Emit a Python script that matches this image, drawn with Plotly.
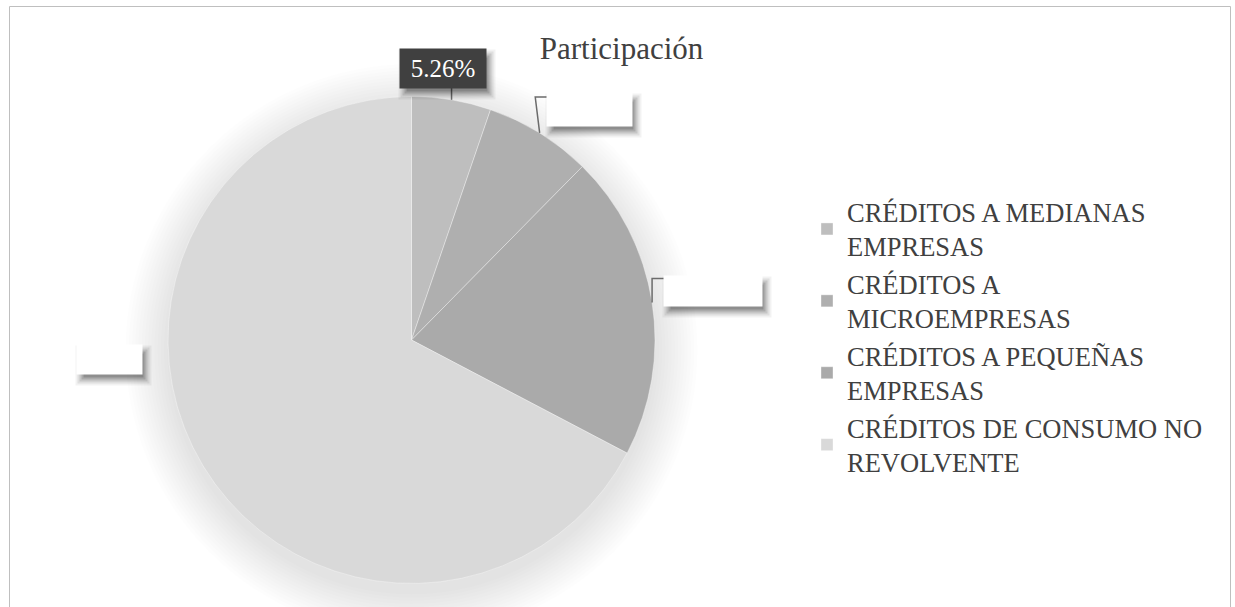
import math
import plotly.graph_objects as go

# ---- data ----
categories = [
    "CRÉDITOS A MEDIANAS<br>EMPRESAS",
    "CRÉDITOS A<br>MICROEMPRESAS",
    "CRÉDITOS A PEQUEÑAS<br>EMPRESAS",
    "CRÉDITOS DE CONSUMO NO<br>REVOLVENTE",
]
shares = [5.26, 7.12, 20.31, 67.31]
label_texts = ["5.26%", "7.12%", "20.31%", "67.31%"]
title_text = "Participación"

# ---- styles ----
colors = ["#bebebe", "#afafaf", "#aaaaaa", "#d9d9d9"]
W, H = 1235, 607
CX, CY, R = 411.5, 340.0, 243.5
TEXT = "#404040"
FONT = "'Liberation Serif', 'Times New Roman', Times, serif"

# per-label styling: box size, box-centre offset from slice edge point,
# leader bend offsets (relative to edge point), fill/font colour
label_style = [
    dict(w=86, h=39, off=(-8.6, -31.3), leader=[(0, -12)], bg="#404040", fc="#ffffff"),
    dict(w=85, h=33, off=(50, -23.4), leader=[(-4.4, -35.9), (7.6, -35.9)], bg="#ffffff", fc="#ffffff"),
    dict(w=98, h=30, off=(61, -11), leader=[(0, -24), (12, -24)], bg="#ffffff", fc="#ffffff"),
    dict(w=65, h=29, off=(-93.5, -106.5), leader=[], bg="#ffffff", fc="#ffffff"),
]


def px(x):
    return x / W


def py(y):
    return 1 - y / H


fig = go.Figure()
fig.add_trace(go.Pie(
    labels=categories,
    values=shares,
    sort=False,
    direction="clockwise",
    rotation=0,
    textinfo="none",
    marker=dict(colors=colors, line=dict(color="rgba(255,255,255,0.45)", width=0.8)),
    domain=dict(x=[px(CX - R), px(CX + R)], y=[py(CY + R), py(CY - R)]),
    hoverinfo="label+percent",
))

shapes = []
# chart border
shapes.append(dict(type="rect", xref="paper", yref="paper",
                   x0=px(9.5), x1=px(1230.5), y0=-0.1, y1=py(6.5),
                   line=dict(color="#bfbfbf", width=1), fillcolor="rgba(0,0,0,0)", layer="below"))
# soft pie shadow
for k in range(14):
    rr = R + 1 + k * 3.2
    shapes.append(dict(type="circle", xref="paper", yref="paper",
                       xsizemode="pixel", ysizemode="pixel",
                       xanchor=px(CX), yanchor=py(CY + 10),
                       x0=-rr, x1=rr, y0=-rr, y1=rr,
                       fillcolor="rgba(0,0,0,0.009)", line=dict(width=0), layer="below"))

annotations = []
total = sum(shares)
cum = 0.0
for val, txt, st in zip(shares, label_texts, label_style):
    mid = (cum + val / 2) / total * 2 * math.pi
    cum += val
    ex = CX + R * math.sin(mid)
    ey = CY - R * math.cos(mid)
    bx = ex + st["off"][0]
    by = ey + st["off"][1]
    # leader line
    if st["leader"]:
        pts = [(ex, ey)] + [(ex + dx, ey + dy) for dx, dy in st["leader"]]
        path = "M " + " L ".join(f"{px(a):.5f},{py(b):.5f}" for a, b in pts)
        shapes.append(dict(type="path", xref="paper", yref="paper", path=path,
                           line=dict(color="#6b6b6b", width=1.5)))
    # blurred box shadow
    for grow, alpha in [(10, 0.05), (6, 0.08), (2, 0.11), (-2, 0.14), (-6, 0.16)]:
        annotations.append(dict(xref="paper", yref="paper", x=px(bx + 4), y=py(by + 6),
                                xanchor="center", yanchor="middle", showarrow=False,
                                text=" ", width=st["w"] + grow, height=st["h"] + grow,
                                borderpad=0, bgcolor=f"rgba(0,0,0,{alpha})",
                                font=dict(size=10)))
    annotations.append(dict(xref="paper", yref="paper", x=px(bx), y=py(by),
                            xanchor="center", yanchor="middle", showarrow=False,
                            text=txt, width=st["w"], height=st["h"], borderpad=0,
                            bgcolor=st["bg"],
                            font=dict(family=FONT, size=25, color=st["fc"])))

fig.update_layout(
    width=W, height=H,
    margin=dict(l=0, r=0, t=0, b=0),
    paper_bgcolor="white",
    plot_bgcolor="white",
    title=dict(text=title_text, x=px(621.5), xref="paper", xanchor="center",
               y=py(48), yref="container", yanchor="middle",
               font=dict(family=FONT, size=31, color=TEXT)),
    showlegend=True,
    legend=dict(x=px(807), xanchor="left", y=py(188), yanchor="top",
                font=dict(family=FONT, size=26.5, color=TEXT),
                bgcolor="rgba(0,0,0,0)", itemclick=False),
    shapes=shapes,
    annotations=annotations,
)

fig.write_html("out.html", config={"displayModeBar": False},
               post_script="document.body.style.margin='0px';")
